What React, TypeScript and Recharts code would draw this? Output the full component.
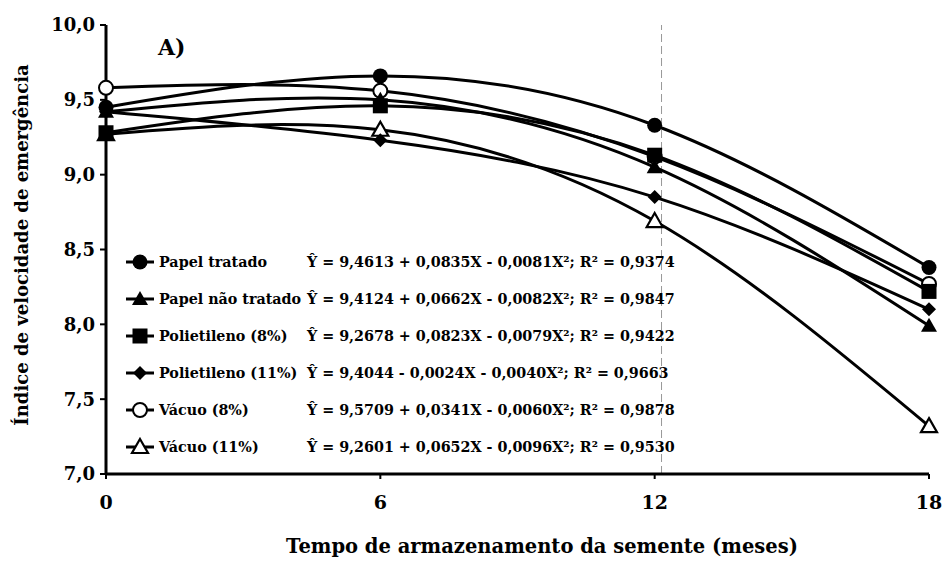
import React from "react";
import { Line, LineChart, ReferenceLine, XAxis, YAxis } from "recharts";

const meses = [0, 6, 12, 18];
const papelTratado = [9.45, 9.66, 9.33, 8.38];
const papelNaoTratado = [9.42, 9.5, 9.05, 7.99];
const polietileno8 = [9.28, 9.46, 9.13, 8.22];
const polietileno11 = [9.42, 9.23, 8.85, 8.1];
const vacuo8 = [9.58, 9.56, 9.12, 8.27];
const vacuo11 = [9.27, 9.3, 8.69, 7.32];

const yTicks = [7, 7.5, 8, 8.5, 9, 9.5, 10];

const series = [
  { key: "papelTratado", name: "Papel tratado", values: papelTratado, marker: "circle", eq: "Ŷ = 9,4613 + 0,0835X - 0,0081X²; R² = 0,9374" },
  { key: "papelNaoTratado", name: "Papel não tratado", values: papelNaoTratado, marker: "triangle", eq: "Ŷ = 9,4124 + 0,0662X - 0,0082X²; R² = 0,9847" },
  { key: "polietileno8", name: "Polietileno (8%)", values: polietileno8, marker: "square", eq: "Ŷ = 9,2678 + 0,0823X - 0,0079X²; R² = 0,9422" },
  { key: "polietileno11", name: "Polietileno (11%)", values: polietileno11, marker: "diamond", eq: "Ŷ = 9,4044 - 0,0024X - 0,0040X²; R² = 0,9663" },
  { key: "vacuo8", name: "Vácuo (8%)", values: vacuo8, marker: "openCircle", eq: "Ŷ = 9,5709 + 0,0341X - 0,0060X²; R² = 0,9878" },
  { key: "vacuo11", name: "Vácuo (11%)", values: vacuo11, marker: "openTriangle", eq: "Ŷ = 9,2601 + 0,0652X - 0,0096X²; R² = 0,9530" },
];

// open markers sit underneath the filled ones in the original
const drawOrder = ["vacuo8", "vacuo11", "polietileno11", "papelNaoTratado", "polietileno8", "papelTratado"];

const data = meses.map((mes, i) => {
  const row: Record<string, number> = { mes };
  series.forEach((s) => (row[s.key] = s.values[i]));
  return row;
});

const font = "'DejaVu Serif', 'Liberation Serif', serif";

function Marker({ type, cx, cy }: { type: string; cx: number; cy: number }) {
  const open = type.startsWith("open");
  const fill = open ? "#fff" : "#000";
  if (type === "circle" || type === "openCircle") {
    return <circle cx={cx} cy={cy} r={open ? 7 : 7.5} fill={fill} stroke="#000" strokeWidth={open ? 2 : 0} />;
  }
  if (type === "triangle" || type === "openTriangle") {
    const s = 8;
    return (
      <polygon
        points={`${cx},${cy - s} ${cx + s},${cy + s * 0.75} ${cx - s},${cy + s * 0.75}`}
        fill={fill}
        stroke="#000"
        strokeWidth={open ? 2.2 : 0}
      />
    );
  }
  if (type === "square") {
    return <rect x={cx - 7.5} y={cy - 7.5} width={15} height={15} fill="#000" />;
  }
  return <polygon points={`${cx},${cy - 7} ${cx + 7},${cy} ${cx},${cy + 7} ${cx - 7},${cy}`} fill="#000" />;
}

const fmt = (v: number) => v.toFixed(1).replace(".", ",");

function ChartLegend() {
  return (
    <div
      style={{
        position: "absolute",
        left: 125,
        top: 243,
        fontFamily: font,
        fontWeight: "bold",
        color: "#000",
        pointerEvents: "none",
      }}
    >
      {series.map((s) => (
        <div key={s.key} style={{ display: "flex", alignItems: "center", height: 37 }}>
          <svg width={30} height={20} style={{ marginRight: 4 }}>
            <line x1={1} y1={10} x2={29} y2={10} stroke="#000" strokeWidth={3} />
            <Marker type={s.marker} cx={15} cy={10} />
          </svg>
          <span style={{ width: 148, fontSize: 14.3, whiteSpace: "nowrap" }}>{s.name}</span>
          <span style={{ fontSize: 14.3, whiteSpace: "nowrap" }}>{s.eq}</span>
        </div>
      ))}
    </div>
  );
}

function YTitle() {
  return (
    <g>
      <text
        x={21}
        y={245}
        transform="rotate(-90, 21, 245)"
        textAnchor="middle"
        dominantBaseline="central"
        fontFamily={font}
        fontWeight="bold"
        fontSize={18}
        fill="#000"
      >
        Índice de velocidade de emergência
      </text>
      <text x={158} y={55} fontFamily={font} fontWeight="bold" fontSize={22} fill="#000">
        A)
      </text>
    </g>
  );
}

function XTitle() {
  return (
    <text x={542} y={553} textAnchor="middle" fontFamily={font} fontWeight="bold" fontSize={19.5} fill="#000">
      Tempo de armazenamento da semente (meses)
    </text>
  );
}

export default function App() {
  return (
    <div style={{ position: "absolute", left: 0, top: 0, width: 943, height: 561, background: "#fff" }}>
      <LineChart width={943} height={561} data={data} margin={{ top: 25, right: 14, bottom: 27, left: 46 }}>
        <XAxis
          dataKey="mes"
          type="number"
          domain={[0, 18]}
          ticks={meses}
          height={60}
          axisLine={{ stroke: "#000", strokeWidth: 3 }}
          tickLine={{ stroke: "#000", strokeWidth: 2 }}
          tickSize={5}
          tickMargin={17}
          tick={{ fill: "#000", fontSize: 19, fontWeight: "bold", fontFamily: font }}
          label={<XTitle />}
        />
        <YAxis
          type="number"
          domain={[7, 10]}
          ticks={yTicks}
          width={60}
          tickFormatter={fmt}
          axisLine={{ stroke: "#000", strokeWidth: 3 }}
          tickLine={{ stroke: "#000", strokeWidth: 2 }}
          tickSize={6}
          tickMargin={5}
          tick={{ fill: "#000", fontSize: 18, fontWeight: "bold", fontFamily: font }}
          label={<YTitle />}
        />
        <ReferenceLine x={12.15} stroke="#999" strokeWidth={1} strokeDasharray="8 4" />
        {drawOrder.map((k) => {
          const s = series.find((x) => x.key === k)!;
          return (
            <Line
              key={s.key}
              dataKey={s.key}
              name={s.name}
              type="natural"
              stroke="#000"
              strokeWidth={3}
              isAnimationActive={false}
              activeDot={false}
              dot={(p: any) => <Marker key={`${s.key}-${p.index}`} type={s.marker} cx={p.cx} cy={p.cy} />}
            />
          );
        })}
      </LineChart>
      <ChartLegend />
    </div>
  );
}
